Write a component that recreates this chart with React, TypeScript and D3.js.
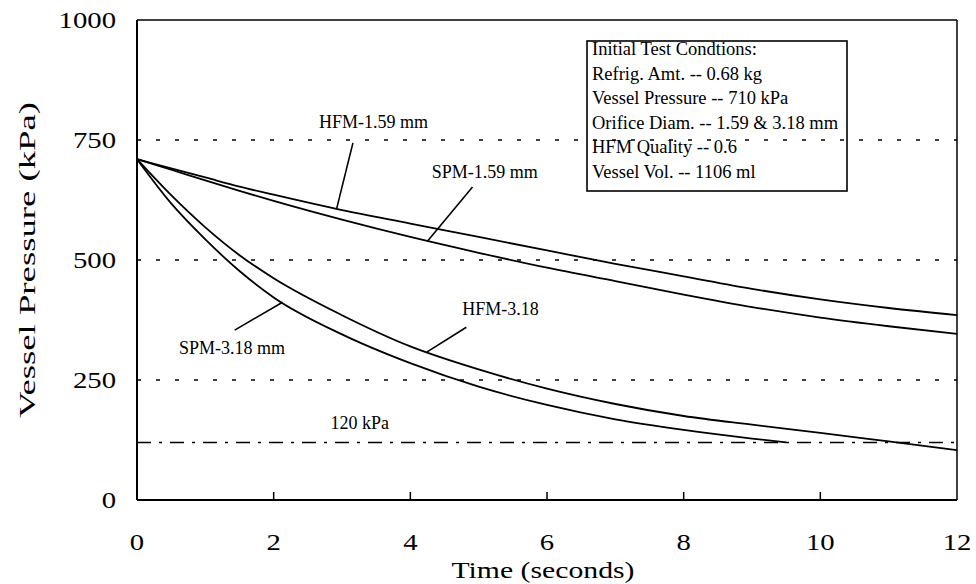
import React from "react";
import * as d3 from "d3";

// Pressure decay curves (kPa vs seconds)
const TIME = [0, 0.5, 1, 1.5, 2, 3, 4, 5, 6, 7, 8, 9, 10, 11, 12];
const HFM_159 = [710, 691, 672, 653, 636, 604, 576, 548, 520, 492, 466, 440, 418, 400, 385];
const SPM_159 = [710, 688, 666, 644, 623, 584, 548, 515, 484, 456, 428, 402, 380, 362, 346];
const HFM_318 = [710, 635, 568, 510, 462, 385, 320, 272, 232, 200, 175, 157, 140, 122, 104];
const TIME_SPM_318 = [0, 0.5, 1, 1.5, 2, 3, 4, 5, 6, 7, 8, 9, 9.5];
const SPM_318 = [710, 618, 543, 477, 422, 345, 285, 236, 198, 168, 146, 128, 120];

const X_TICKS = [0, 2, 4, 6, 8, 10, 12];
const Y_TICKS = [0, 250, 500, 750, 1000];
const GRID_VALUES = [250, 500, 750];
const LIMIT_PRESSURE = 120;

const CONDITIONS = [
  "Initial Test Condtions:",
  "Refrig. Amt. -- 0.68 kg",
  "Vessel Pressure -- 710 kPa",
  "Orifice Diam. -- 1.59 & 3.18 mm",
  "HFM Quality -- 0.6",
  "Vessel Vol. -- 1106 ml",
];

// Curve callouts in data units: label position and leader from/to
const CALLOUTS = [
  { text: "HFM-1.59 mm", lt: 3.46, lv: 787, from: [3.16, 744], to: [2.92, 606] },
  { text: "SPM-1.59 mm", lt: 5.09, lv: 683, from: [4.91, 652], to: [4.25, 539] },
  { text: "HFM-3.18", lt: 5.32, lv: 398, from: [4.82, 360], to: [4.24, 308] },
  { text: "SPM-3.18 mm", lt: 1.39, lv: 317, from: [1.43, 354], to: [2.13, 412] },
];
const LIMIT_LABEL = { text: "120 kPa", lt: 3.26, lv: 160 };

const W = 976;
const H = 584;
const FONT = "'Liberation Serif', 'Times New Roman', serif";

export default function App() {
  const x = d3.scaleLinear().domain([0, 12]).range([137, 957]);
  const y = d3.scaleLinear().domain([0, 1000]).range([500, 20]);

  const line = (ts: number[], vs: number[]) =>
    d3
      .line<number>()
      .x((_, i) => x(ts[i]))
      .y((v) => y(v))
      .curve(d3.curveMonotoneX)(vs) || "";

  const series = [
    line(TIME, HFM_159),
    line(TIME, SPM_159),
    line(TIME, HFM_318),
    line(TIME_SPM_318, SPM_318),
  ];

  const [x0, x1] = x.range();
  const [yb, yt] = y.range();

  return (
    <svg
      width={W}
      height={H}
      style={{ position: "absolute", left: 0, top: 0, background: "#fff" }}
      fontFamily={FONT}
    >
      <rect width={W} height={H} fill="#fff" />

      {/* horizontal grid */}
      {GRID_VALUES.map((v) => (
        <line
          key={v}
          x1={x0}
          x2={x1}
          y1={y(v)}
          y2={y(v)}
          stroke="#000"
          strokeWidth={1.6}
          strokeDasharray="4,15"
        />
      ))}

      {/* 120 kPa reference line */}
      <line
        x1={x0}
        x2={x1}
        y1={y(LIMIT_PRESSURE)}
        y2={y(LIMIT_PRESSURE)}
        stroke="#000"
        strokeWidth={1.5}
        strokeDasharray="14,8,3,8"
      />
      <text
        x={x(LIMIT_LABEL.lt)}
        y={y(LIMIT_LABEL.lv)}
        fontSize={18}
        textAnchor="middle"
        dominantBaseline="central"
      >
        {LIMIT_LABEL.text}
      </text>

      {/* curves */}
      {series.map((d, i) => (
        <path key={i} d={d} fill="none" stroke="#000" strokeWidth={1.8} />
      ))}

      {/* callouts */}
      {CALLOUTS.map((c) => (
        <g key={c.text}>
          <line
            x1={x(c.from[0])}
            y1={y(c.from[1])}
            x2={x(c.to[0])}
            y2={y(c.to[1])}
            stroke="#000"
            strokeWidth={1.6}
          />
          <text
            x={x(c.lt)}
            y={y(c.lv)}
            fontSize={18}
            textAnchor="middle"
            dominantBaseline="central"
          >
            {c.text}
          </text>
        </g>
      ))}

      {/* conditions box */}
      <rect x={587} y={41} width={260} height={150} fill="none" stroke="#000" strokeWidth={1.6} />
      {CONDITIONS.map((t, i) => (
        <text key={t} x={592} y={49 + i * 24.5} fontSize={18.5} dominantBaseline="central">
          {t}
        </text>
      ))}

      {/* frame */}
      <line x1={x0} x2={x1} y1={yt} y2={yt} stroke="#000" strokeWidth={1.5} />
      <line x1={x1} x2={x1} y1={yt} y2={yb} stroke="#000" strokeWidth={1.5} />
      <line x1={x0} x2={x0} y1={yt} y2={yb} stroke="#000" strokeWidth={2} />
      <line x1={x0} x2={x1} y1={yb} y2={yb} stroke="#000" strokeWidth={2.2} />

      {/* x ticks */}
      {X_TICKS.filter((t) => t > 0 && t < 12).map((t) => (
        <line key={t} x1={x(t)} x2={x(t)} y1={yb} y2={yb - 8} stroke="#000" strokeWidth={1.5} />
      ))}
      {X_TICKS.map((t) => (
        <text
          key={t}
          transform={`translate(${x(t)},${542}) scale(1.25,1)`}
          fontSize={23}
          textAnchor="middle"
          dominantBaseline="central"
        >
          {t}
        </text>
      ))}

      {/* y tick labels */}
      {Y_TICKS.map((v) => (
        <text
          key={v}
          transform={`translate(116,${y(v)}) scale(1.25,1)`}
          fontSize={23}
          textAnchor="end"
          dominantBaseline="central"
        >
          {v}
        </text>
      ))}

      {/* axis titles */}
      <text
        x={543}
        y={570}
        fontSize={23}
        textAnchor="middle"
        dominantBaseline="central"
        textLength={183}
        lengthAdjust="spacingAndGlyphs"
      >
        Time (seconds)
      </text>
      <text
        transform={`translate(27,${(yt + yb) / 2}) rotate(-90)`}
        fontSize={24}
        textAnchor="middle"
        dominantBaseline="central"
        textLength={316}
        lengthAdjust="spacingAndGlyphs"
      >
        Vessel Pressure (kPa)
      </text>
    </svg>
  );
}
